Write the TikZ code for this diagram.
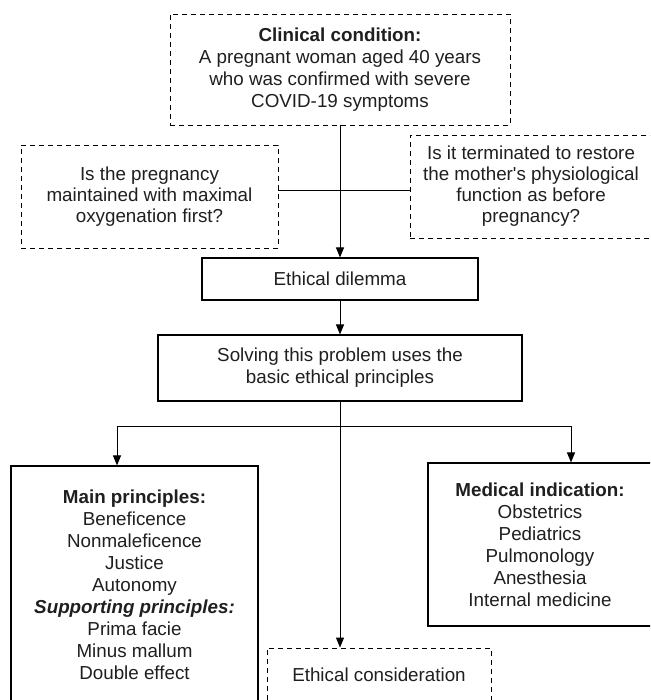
\documentclass[tikz,border=0pt]{standalone}
\usepackage{fontspec}
\setmainfont{Liberation Sans}
\usetikzlibrary{arrows.meta}
\begin{document}
\begin{tikzpicture}[x=1pt,y=-1pt,
  base/.style={align=center, text=black!88, font=\fontsize{18.8}{22}\selectfont, inner sep=0pt},
  dbox/.style={base, draw=black, line width=0.9pt, dash pattern=on 5pt off 4pt},
  sbox/.style={base, draw=black, line width=1.1pt},
  conn/.style={draw=black, line width=1pt},
  arr/.style={conn, -{Triangle[length=10pt,width=8pt]}}]
\clip (0,0) rectangle (650,700);
\fill[white] (0,0) rectangle (650,700);
% nodes
\node[dbox, minimum width=340pt, minimum height=111pt] (top) at (340,69.5)
  {\textbf{Clinical condition:}\\A pregnant woman aged 40 years\\who was confirmed with severe\\COVID-19 symptoms};
\node[dbox, minimum width=257pt, minimum height=103pt, font=\fontsize{18.8}{21}\selectfont] (q1) at (149.5,196.5)
  {Is the pregnancy\\maintained with maximal\\oxygenation first?};
\node[dbox, minimum width=242pt, minimum height=103pt, font=\fontsize{18.8}{21}\selectfont] (q2) at (531,186.5)
  {Is it terminated to restore\\the mother\textquotesingle s physiological\\function as before\\pregnancy?};
\node[sbox, minimum width=276pt, minimum height=42pt] (dil) at (340,279) {Ethical dilemma};
\node[sbox, minimum width=364pt, minimum height=66pt] (solve) at (340,368)
  {Solving this problem uses the\\basic ethical principles};
\node[sbox, minimum width=247pt, minimum height=238pt] (main) at (134.5,585)
  {\textbf{Main principles:}\\Beneficence\\Nonmaleficence\\Justice\\Autonomy\\\textbf{\textit{Supporting principles:}}\\Prima facie\\Minus mallum\\Double effect};
\node[sbox, minimum width=224pt, minimum height=163pt] (med) at (540,544.5)
  {\textbf{Medical indication:}\\Obstetrics\\Pediatrics\\Pulmonology\\Anesthesia\\Internal medicine};
\node[dbox, minimum width=224pt, minimum height=54pt] (econ) at (379,675) {Ethical consideration};
% junctions
\coordinate (j) at (340,191);
\coordinate (br) at (340,426);
\coordinate (bl) at (117,426);
\coordinate (bm) at (571,426);
% connectors
\draw[arr] (top.south) -- (dil.north);
\draw[conn] (q1.east |- j) -- (j);
\draw[conn] (q2.west |- j) -- (j);
\draw[arr] (dil.south) -- (solve.north);
\draw[arr] (solve.south) -- (solve.south |- econ.north);
\draw[conn] (bl) -- (bm);
\draw[arr] (bl) -- (bl |- main.north);
\draw[arr] (bm) -- (bm |- med.north);
\end{tikzpicture}
\end{document}
